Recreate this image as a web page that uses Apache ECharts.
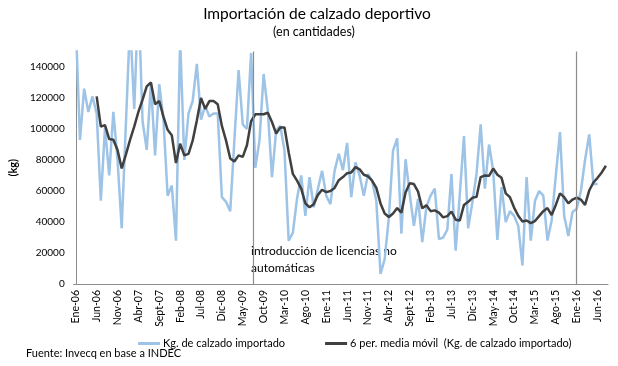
<!DOCTYPE html>
<html>
<head>
<meta charset="utf-8">
<script src="https://cdn.jsdelivr.net/npm/echarts@6/dist/echarts.min.js"></script>
<style>
html,body{margin:0;padding:0;background:#fff;}
#chart{width:618px;height:366px;}
</style>
</head>
<body>
<div id="chart"></div>
<script>
const categories = [
'Ene-06','Feb-06','Mar-06','Abr-06','May-06','Jun-06','Jul-06','Ago-06','Sept-06','Oct-06','Nov-06','Dic-06',
'Ene-07','Feb-07','Mar-07','Abr-07','May-07','Jun-07','Jul-07','Ago-07','Sept-07','Oct-07','Nov-07','Dic-07',
'Ene-08','Feb-08','Mar-08','Abr-08','May-08','Jun-08','Jul-08','Ago-08','Sept-08','Oct-08','Nov-08','Dic-08',
'Ene-09','Feb-09','Mar-09','Abr-09','May-09','Jun-09','Jul-09','Ago-09','Sept-09','Oct-09','Nov-09','Dic-09',
'Ene-10','Feb-10','Mar-10','Abr-10','May-10','Jun-10','Jul-10','Ago-10','Sept-10','Oct-10','Nov-10','Dic-10',
'Ene-11','Feb-11','Mar-11','Abr-11','May-11','Jun-11','Jul-11','Ago-11','Sept-11','Oct-11','Nov-11','Dic-11',
'Ene-12','Feb-12','Mar-12','Abr-12','May-12','Jun-12','Jul-12','Ago-12','Sept-12','Oct-12','Nov-12','Dic-12',
'Ene-13','Feb-13','Mar-13','Abr-13','May-13','Jun-13','Jul-13','Ago-13','Sept-13','Oct-13','Nov-13','Dic-13',
'Ene-14','Feb-14','Mar-14','Abr-14','May-14','Jun-14','Jul-14','Ago-14','Sept-14','Oct-14','Nov-14','Dic-14',
'Ene-15','Feb-15','Mar-15','Abr-15','May-15','Jun-15','Jul-15','Ago-15','Sept-15','Oct-15','Nov-15','Dic-15',
'Ene-16','Feb-16','Mar-16','Abr-16','May-16','Jun-16','Jul-16','Ago-16'
];

const kgImportado = [
168000, 93000, 126000, 111000, 121000, 110000, 53700, 101000, 70000, 111000,
80000, 36000, 103000, 170000, 113000, 185000, 105000, 86500, 129500, 83000,
129000, 106000, 57000, 63500, 28000, 158000, 80000, 110000, 118000, 142000,
106000, 115000, 108000, 110000, 110000, 56000, 53000, 47000, 93000, 138000,
103000, 100000, 149000, 75000, 92500, 135500, 112000, 69000, 99000, 102000,
86000, 28000, 33000, 55000, 70000, 44000, 69000, 49500, 61500, 73000,
57000, 51500, 73000, 84000, 73500, 91000, 56000, 78500, 70000, 57000,
71000, 66500, 53500, 6500, 16000, 43000, 86000, 94000, 32500, 80500,
58000, 37500, 55000, 27000, 50000, 57000, 61500, 29000, 30000, 35000,
71000, 21500, 58000, 95500, 36000, 52500, 71000, 103000, 61500, 90000,
73000, 28500, 62500, 40000, 47000, 44000, 37500, 12000, 69000, 28000,
53500, 60000, 57000, 28000, 41000, 70000, 98000, 44000, 31000, 46500,
48500, 60000, 80000, 96500, 64500, 64500, null, null
];

const mediaMovil = [
null, null, null, null, null, 121000, 101500, 102500, 93500, 93000,
86500, 74600, 83500, 93000, 101500, 111000, 119000, 127500, 130000, 116000,
118000, 108000, 99500, 96000, 78000, 90500, 83000, 84000, 92500, 105500,
120000, 113000, 118000, 118000, 116000, 102000, 92500, 81000, 79000, 83000,
82000, 89500, 105000, 109500, 109500, 109500, 110500, 104500, 97000, 101000,
101000, 85000, 71000, 66700, 61500, 52000, 49500, 51500, 57500, 60800,
59300, 60000, 62000, 67000, 69000, 71500, 72000, 75400, 74000, 70500,
69500, 66600, 62000, 52000, 45500, 43200, 45500, 49000, 46000, 59000,
65000, 64500, 59600, 48800, 50800, 47000, 47500, 46000, 43000, 43800,
46800, 41500, 41000, 51000, 53000, 55600, 56200, 69000, 70000, 69800,
74500, 70500, 68500, 58500, 56000, 49300, 44000, 40300, 41000, 39300,
40600, 43800, 47000, 49000, 44500, 51000, 58500, 56000, 52000, 54500,
55800, 54500, 51000, 60300, 65500, 68500, 72000, 76300
];

// positions (in category index units) of the two event lines
const eventLines = [42.5, 120];
const yTicks = {min: 0, max: 150000, interval: 20000};

const FONT = 'Lato, "Liberation Sans", sans-serif';
const chart = echarts.init(document.getElementById('chart'), null, {renderer: 'canvas'});

chart.setOption({
  animation: false,
  textStyle: {fontFamily: FONT},
  grid: {left: 66.7, right: 10, top: 51.5, bottom: 82, containLabel: false},
  legend: {
    left: 133, top: 333,
    icon: 'rect', itemWidth: 22, itemHeight: 3, itemGap: 40,
    textStyle: {fontFamily: FONT, fontSize: 11, color: '#000', padding: [0, 0, 0, -2]},
    data: ['Kg. de calzado importado', '6 per. media móvil  (Kg. de calzado importado)']
  },
  xAxis: [{
    type: 'category',
    data: categories,
    boundaryGap: true,
    axisLine: {lineStyle: {color: '#8c8c8c', width: 1}},
    axisTick: {show: false},
    axisLabel: {interval: 4, rotate: 90, fontSize: 10.5, color: '#000', margin: 6, fontFamily: FONT},
    splitLine: {show: false}
  }, {
    type: 'value', min: -0.5, max: categories.length - 0.5, show: false
  }],
  yAxis: {
    type: 'value',
    min: yTicks.min, max: yTicks.max, interval: yTicks.interval,
    name: '(kg)', nameLocation: 'middle', nameGap: 49,
    nameTextStyle: {fontWeight: 'bold', fontSize: 11, color: '#000', fontFamily: FONT},
    axisLine: {show: true, lineStyle: {color: '#8c8c8c', width: 1}},
    axisTick: {show: false},
    axisLabel: {fontSize: 10, color: '#000', margin: 9, showMaxLabel: false, fontFamily: FONT,
      formatter: v => String(v)},
    splitLine: {show: false}
  },
  series: [{
    name: 'Kg. de calzado importado',
    type: 'line',
    data: kgImportado,
    showSymbol: false,
    symbol: 'none',
    clip: true,
    lineStyle: {color: '#9dc3e6', width: 2.5},
    itemStyle: {color: '#9dc3e6'},
    z: 2
  }, {
    name: '6 per. media móvil  (Kg. de calzado importado)',
    type: 'line',
    data: mediaMovil,
    showSymbol: false,
    symbol: 'none',
    clip: true,
    lineStyle: {color: '#404040', width: 2.5},
    itemStyle: {color: '#404040'},
    z: 3
  }, {
    name: 'events',
    type: 'line',
    xAxisIndex: 1,
    data: [],
    silent: true,
    markLine: {
      silent: true, symbol: 'none',
      label: {show: false},
      lineStyle: {color: '#8c8c8c', width: 1.2, type: 'solid'},
      data: eventLines.map(v => ({xAxis: v}))
    },
    z: 1
  }],
  graphic: [
    {type: 'text', x: 317, y: 14, style: {text: 'Importación de calzado deportivo', font: '15.5px ' + FONT, fill: '#000',
      align: 'center', verticalAlign: 'middle', textAlign: 'center', textVerticalAlign: 'middle'}},
    {type: 'text', x: 314, y: 32, style: {text: '(en cantidades)', font: '12.5px ' + FONT, fill: '#000',
      align: 'center', verticalAlign: 'middle', textAlign: 'center', textVerticalAlign: 'middle'}},
    {type: 'text', left: 251, top: 243, style: {text: 'introducción de licencias no\nautomáticas', font: '12px ' + FONT, fill: '#000', lineHeight: 17}},
    {type: 'text', left: 26, top: 348, style: {text: 'Fuente: Invecq en base a INDEC', font: '11px ' + FONT, fill: '#000'}}
  ]
});
</script>
</body>
</html>
